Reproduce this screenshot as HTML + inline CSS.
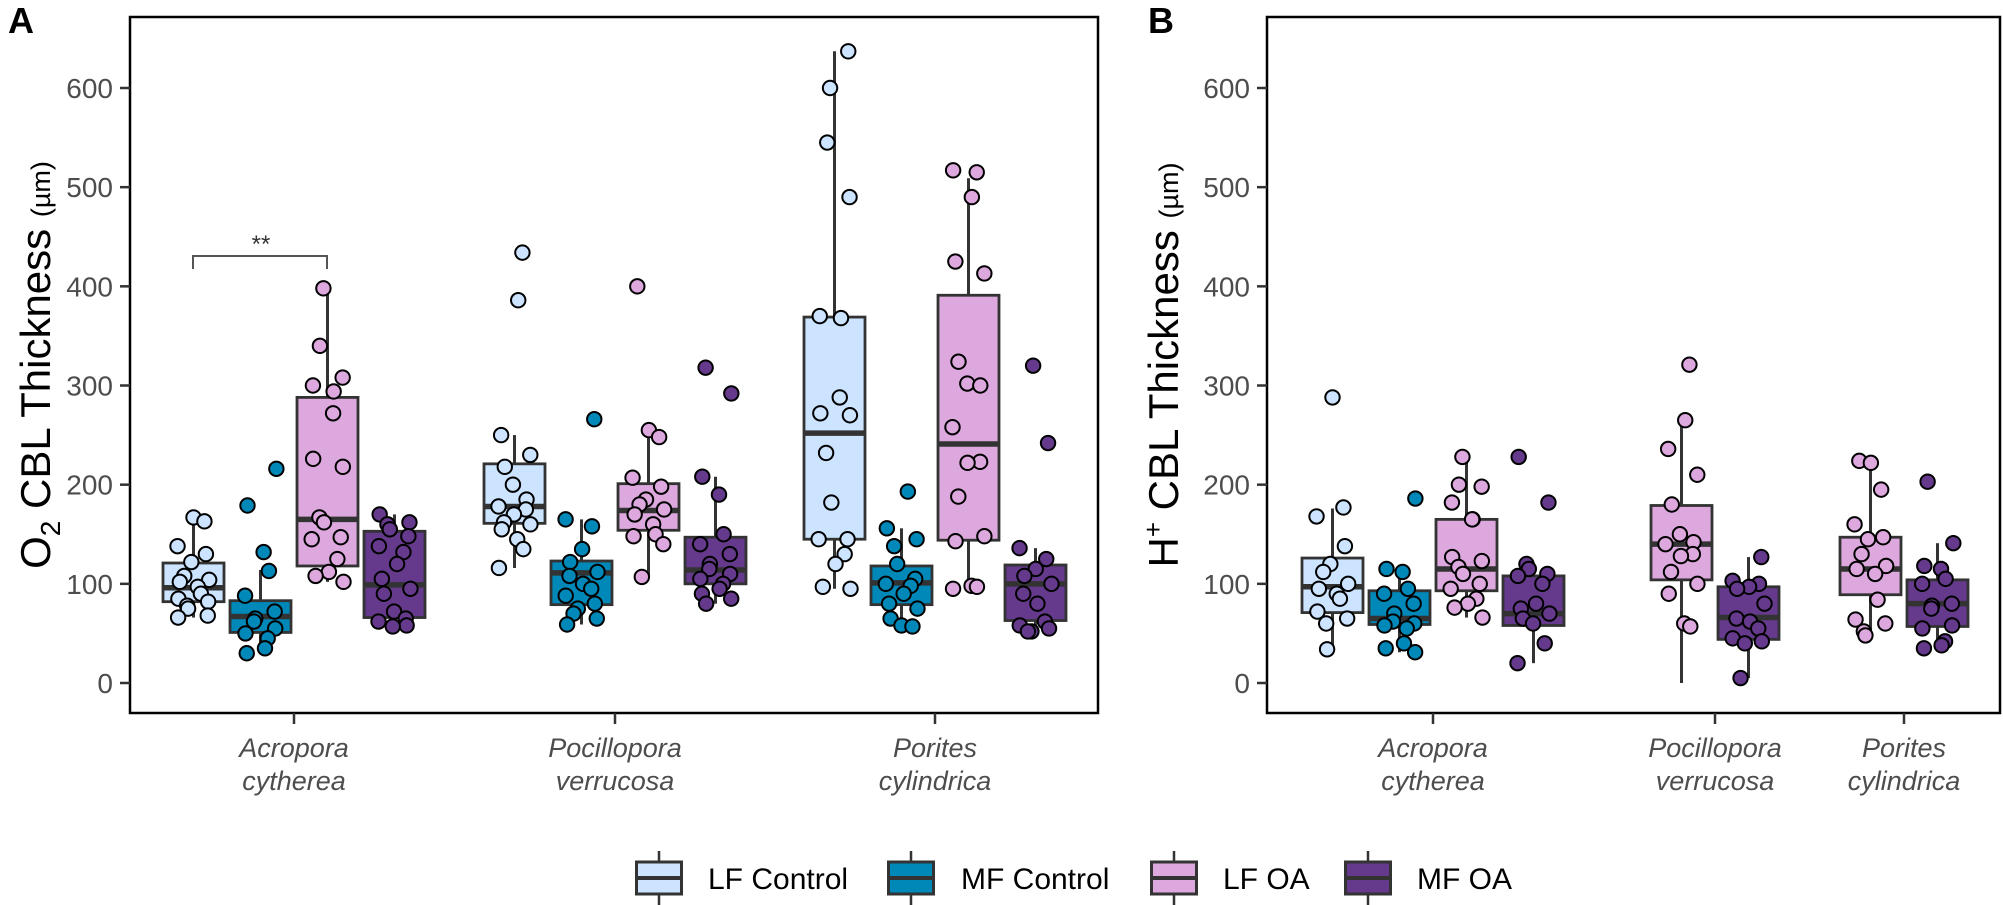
<!DOCTYPE html>
<html><head><meta charset="utf-8">
<style>
html,body{margin:0;padding:0;background:#fff;}
svg{display:block;font-family:"Liberation Sans",Arial,sans-serif;}
</style></head>
<body>
<svg id="chart" width="2003" height="905" viewBox="0 0 2003 905" xmlns="http://www.w3.org/2000/svg">
  <rect x="0" y="0" width="2003" height="905" fill="#fff"/>
  <g id="pA"></g>
  <g id="pB"></g>
  <g id="legend"></g>
</svg>
<script>
const NS = "http://www.w3.org/2000/svg";
const groups = ["LF Control", "MF Control", "LF OA", "MF OA"];
const colors = ["#cce4ff", "#0088b9", "#dda8dd", "#653a8c"];
const yTicks = [0, 100, 200, 300, 400, 500, 600];
const speciesA = [["Acropora","cytherea"],["Pocillopora","verrucosa"],["Porites","cylindrica"]];
const speciesB = [["Acropora","cytherea"],["Pocillopora","verrucosa"],["Porites","cylindrica"]];

// Panel A box stats: [species, group, lowerWhisker, q1, median, q3, upperWhisker]
const boxesA = [
  [0,0,66,82,96,121,165],[0,1,31,51,67,83,114],[0,2,102,118,165,288,398],[0,3,57,66,99,153,170],
  [1,0,116,161,178,221,250],[1,1,59,79,111,123,165],[1,2,107,154,174,201,255],[1,3,80,100,114,147,208],
  [2,0,95,145,252,369,637],[2,1,57,79,101,118,156],[2,2,95,144,241,391,509],[2,3,54,63,100,119,136]
];
const pointsA = [
  [167,163,138,130,122,108,104,102,97,90,85,82,78,75,68,66],
  [216,179,132,113,88,72,65,62,55,50,45,35,30],
  [398,340,308,300,294,272,226,218,167,162,147,145,125,112,108,102],
  [170,162,160,155,148,138,132,120,105,95,90,72,65,62,58,57],
  [434,386,250,230,218,200,185,178,175,170,162,160,155,145,135,116],
  [266,165,158,135,122,112,108,100,95,88,80,75,70,65,59],
  [400,255,248,207,198,185,180,175,170,160,150,148,140,107],
  [318,292,208,190,150,140,130,120,115,110,105,100,95,90,85,80],
  [637,600,545,490,370,368,288,272,270,232,182,145,145,130,120,97,95],
  [193,156,145,138,120,105,100,98,90,80,75,65,58,57],
  [517,515,490,425,413,324,302,300,258,223,222,188,148,143,98,97,95],
  [320,242,136,125,115,108,100,90,80,62,58,55,52,52]
];
const boxesB = [
  [0,0,34,71,97,126,176],[0,1,31,59,65,93,115],[0,2,66,93,115,165,228],[0,3,20,58,70,108,121],
  [1,2,0,104,140,179,265],[1,3,5,44,66,97,127],
  [2,2,48,89,115,147,223],[2,3,34,57,80,104,141]
];
const pointsB = [
  [288,177,168,138,120,112,100,95,90,85,72,65,60,34],
  [186,115,112,95,90,80,70,62,60,58,55,40,35,31],
  [228,200,198,182,165,165,127,123,117,110,100,95,85,80,76,66],
  [228,182,120,115,110,108,100,80,75,70,65,60,40,20],
  [321,265,236,210,180,150,142,140,130,128,112,100,90,60,57],
  [127,103,100,97,95,80,65,62,55,45,42,40,5],
  [224,222,195,160,147,145,130,118,115,110,84,64,60,52,48],
  [203,141,118,115,105,100,80,78,75,58,55,42,38,35]
];

function el(tag, attrs, parent) {
  const e = document.createElementNS(NS, tag);
  for (const k in attrs) e.setAttribute(k, attrs[k]);
  parent.appendChild(e);
  return e;
}
const Y0 = 683, PX = (683 - 88) / 600;
function yScale(v) { return Y0 - v * PX; }

function drawPanel(g, cfg) {
  const frame = el("rect", {x: cfg.left, y: 17, width: cfg.right - cfg.left, height: 696, fill: "none", stroke: "#000", "stroke-width": 2.5}, g);
  
  
  yTicks.forEach(t => {
    const y = yScale(t);
    const tk = el("line", {x1: cfg.left - 10, x2: cfg.left, y1: y, y2: y, stroke: "#333", "stroke-width": 2.5}, g);
    
    
    const lb = el("text", {x: cfg.left - 17, y: y + 10, "text-anchor": "end", "font-size": 28, fill: "#4d4d4d"}, g);
    lb.textContent = t;
    
    
  });
  cfg.species.forEach((sp, i) => {
    const x = cfg.centers[i];
    const tk = el("line", {x1: x, x2: x, y1: 713, y2: 724, stroke: "#333", "stroke-width": 2.5}, g);
    
    
    const lb = el("text", {x: x, y: 757, "text-anchor": "middle", "font-size": 27, "font-style": "italic", fill: "#4d4d4d"}, g);
    
    
    const t1 = el("tspan", {x: x, y: 757}, lb); t1.textContent = sp[0];
    const t2 = el("tspan", {x: x, y: 790}, lb); t2.textContent = sp[1];
  });
  const bw = 61, sp = 67;
  cfg.boxes.forEach((b, bi) => {
    const [s, gi, lo, q1, med, q3, hi] = b;
    const n = cfg.nPer[s];
    const slot = cfg.slots[s].indexOf(gi);
    const cx = cfg.centers[s] + (slot - (n - 1) / 2) * sp;
    const bg = el("g", {}, g);
    
    
    el("line", {x1: cx, x2: cx, y1: yScale(hi), y2: yScale(q3), stroke: "#333", "stroke-width": 3}, bg);
    el("line", {x1: cx, x2: cx, y1: yScale(q1), y2: yScale(lo), stroke: "#333", "stroke-width": 3}, bg);
    el("rect", {x: cx - bw / 2, y: yScale(q3), width: bw, height: yScale(q1) - yScale(q3), fill: colors[gi], stroke: "#333", "stroke-width": 2.8}, bg);
    el("line", {x1: cx - bw / 2, x2: cx + bw / 2, y1: yScale(med), y2: yScale(med), stroke: "#333", "stroke-width": 5.5}, bg);
    cfg.points[bi].forEach((v, k) => {
      const jit = Math.sin(k * 2.39 + bi * 1.7) * 16;
      const c = el("circle", {cx: cx + jit, cy: yScale(v), r: 7.2, fill: colors[gi], stroke: "#000", "stroke-width": 2}, bg);
      
      
    });
  });
  const lab = el("text", {x: cfg.labX, y: 33, "font-size": 36, "font-weight": "bold", fill: "#000"}, g);
  lab.textContent = cfg.label;
  
  
  const yt = el("text", {transform: `translate(${cfg.titleX},365) rotate(-90)`, "text-anchor": "middle", "font-size": 42, fill: "#000"}, g);
  
  
  yt.innerHTML = cfg.title;
}

drawPanel(document.getElementById("pA"), {
  left: 130, right: 1098, centers: [294, 615, 935], species: speciesA,
  boxes: boxesA, points: pointsA, nPer: [4, 4, 4], slots: [[0,1,2,3],[0,1,2,3],[0,1,2,3]],
  label: "A", labX: 8, titleX: 50,
  title: 'O<tspan font-size="28" dy="10">2</tspan><tspan dy="-10"> CBL Thickness </tspan><tspan font-size="27">(µm)</tspan>'
});
drawPanel(document.getElementById("pB"), {
  left: 1267, right: 2000, centers: [1433, 1715, 1904], species: speciesB,
  boxes: boxesB, points: pointsB, nPer: [4, 2, 2], slots: [[0,1,2,3],[2,3],[2,3]],
  label: "B", labX: 1148, titleX: 1178,
  title: 'H<tspan font-size="26" dy="-16">+</tspan><tspan dy="16"> CBL Thickness </tspan><tspan font-size="27">(µm)</tspan>'
});

const pa = document.getElementById("pA");
const br = el("path", {d: "M193 269 V256 H327 V269", fill: "none", stroke: "#555", "stroke-width": 2}, pa);


const st = el("text", {x: 261, y: 252, "text-anchor": "middle", "font-size": 24, fill: "#333"}, pa);
st.textContent = "**";



const lg = document.getElementById("legend");
const keyX = [635, 887, 1150, 1344];
const txtX = [708, 961, 1223, 1417];
groups.forEach((gname, i) => {
  const ent = el("g", {}, lg);
  
  
  const cx = keyX[i] + 24;
  el("line", {x1: cx, x2: cx, y1: 851, y2: 905, stroke: "#333", "stroke-width": 2.5}, ent);
  el("rect", {x: keyX[i] + 1.5, y: 862, width: 45, height: 32, fill: colors[i], stroke: "#333", "stroke-width": 3}, ent);
  el("line", {x1: keyX[i] + 1.5, x2: keyX[i] + 46.5, y1: 878, y2: 878, stroke: "#333", "stroke-width": 4}, ent);
  const t = el("text", {x: txtX[i], y: 889, "font-size": 30, fill: "#000"}, ent);
  t.textContent = gname;
});
</script>
</body></html>
